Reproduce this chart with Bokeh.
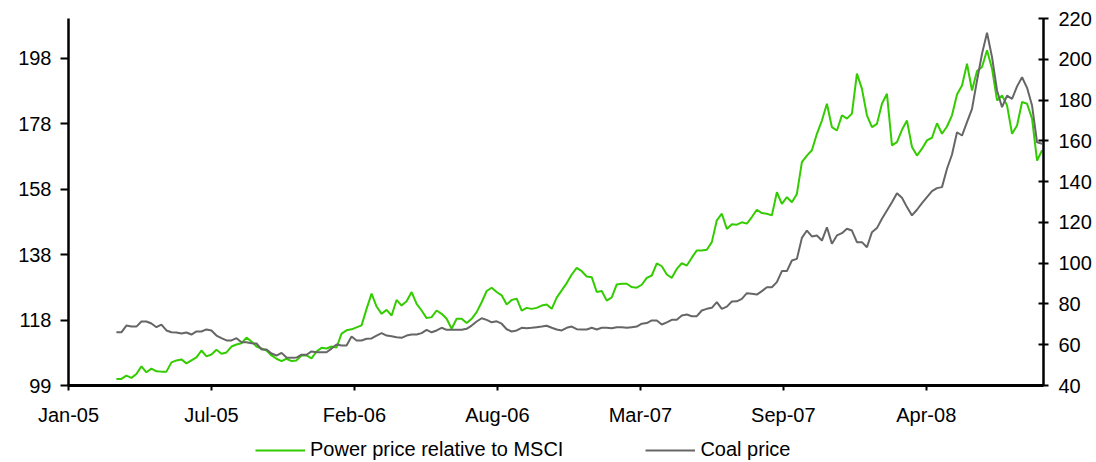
import pandas as pd
from bokeh.plotting import figure
from bokeh.layouts import column
from bokeh.models import (Range1d, LinearAxis, FixedTicker, DatetimeTickFormatter,
                          Legend, LegendItem, ColumnDataSource)
from bokeh.embed import file_html
from bokeh.resources import INLINE

first_week = "2005-03-11"

power_rel_msci = [
    101.0, 101.0, 102.0, 101.3, 102.5, 104.8, 103.0, 104.1, 103.3, 103.2,
    103.2, 106.0, 106.6, 106.9, 105.7, 106.6, 107.5, 109.6, 107.8, 108.4,
    109.8, 108.6, 109.0, 110.8, 111.4, 111.8, 113.5, 112.3, 110.8, 110.2,
    109.6, 108.1, 107.1, 106.4, 107.1, 106.4, 106.6, 108.1, 108.1, 107.2,
    109.3, 110.4, 110.2, 110.8, 110.5, 114.7, 115.7, 116.0, 116.6,
    117.2, 122.2, 126.8, 122.9, 120.7, 121.9, 120.2, 124.9, 123.2, 124.5,
    127.3, 123.7, 121.7, 119.4, 119.7, 121.7, 120.7, 119.2, 116.2, 119.2,
    119.2, 117.9, 119.2, 121.2, 124.2, 127.6, 128.6, 127.3, 126.3, 123.5,
    124.9, 125.3, 121.7, 122.5, 122.2, 122.5, 123.2, 123.5, 122.2, 125.6,
    127.8, 130.0, 132.6, 134.6, 133.6, 132.0, 131.8, 127.3,
    127.6, 124.7, 125.7, 129.6, 129.8, 129.8, 128.8, 128.6, 129.5, 131.6,
    132.3, 136.0, 135.1, 132.6, 131.6, 134.3, 136.0, 135.3, 137.7, 139.9,
    139.9, 140.1, 142.4, 149.0, 151.0, 146.4, 147.8, 147.7, 148.4, 148.0,
    150.0, 152.2, 151.2, 151.0, 150.5, 157.5, 154.0, 156.0, 154.5, 157.0,
    166.6, 168.6, 170.2, 175.2, 179.2, 184.3, 177.2, 176.2, 180.8, 179.8,
    181.3, 193.4, 188.8, 180.8, 177.2, 178.2, 184.3, 187.3, 171.7, 172.7,
    176.4, 179.2, 171.2, 168.6, 170.7, 173.2, 174.0, 178.4,
    175.2, 177.4, 180.8, 187.1, 189.8, 196.4, 188.3, 194.2, 195.4, 200.5,
    194.9, 185.3, 186.8, 183.8, 175.2, 177.7, 184.8, 184.3, 179.8, 167.1,
    170.2,
]

coal_price = [
    66.1, 66.1, 69.4, 68.9, 68.9, 71.4, 71.4, 70.4, 68.6, 69.9,
    67.0, 66.1, 66.0, 65.5, 66.0, 65.0, 66.5, 66.5, 67.5, 67.0,
    64.5, 63.2, 62.1, 62.1, 63.2, 61.2, 61.2, 60.7, 60.6, 57.7,
    57.7, 55.7, 54.7, 56.0, 53.7, 53.6, 53.7, 55.1, 55.1, 56.7,
    56.3, 56.3, 56.3, 58.1, 60.1, 59.6, 59.6, 64.0, 62.1,
    62.1, 62.9, 63.1, 64.5, 65.7, 64.5, 64.2, 63.7, 63.4, 64.5,
    65.0, 65.0, 65.7, 67.3, 66.1, 67.0, 68.3, 67.3, 67.3, 67.3,
    67.3, 67.8, 69.4, 71.4, 73.0, 72.2, 71.0, 71.5, 70.3, 67.6,
    66.5, 67.0, 68.3, 68.1, 68.3, 68.6, 68.9, 69.3, 68.3, 67.5,
    67.0, 68.3, 68.9, 67.6, 67.5, 67.5, 68.3, 67.5,
    68.3, 68.3, 68.1, 68.6, 68.6, 68.3, 68.6, 68.9, 70.3, 70.6,
    71.9, 71.9, 69.9, 71.0, 72.2, 72.2, 74.3, 74.8, 74.0, 74.0,
    76.8, 77.6, 78.1, 80.9, 77.6, 78.7, 81.2, 81.3, 82.5, 85.3,
    85.0, 84.6, 86.3, 88.2, 88.2, 90.7, 96.1, 96.1, 101.3, 102.1,
    112.4, 116.0, 113.1, 113.6, 111.1, 117.6, 109.5, 113.6, 114.7, 116.9,
    116.0, 110.3, 110.3, 107.8, 115.2, 117.2, 121.8, 125.8, 129.9, 134.3,
    132.1, 127.5, 123.4, 126.2, 129.4, 132.4, 135.3, 136.8,
    137.3, 146.3, 153.3, 164.2, 162.6, 169.2, 175.7, 189.6, 202.7, 213.0,
    201.0, 184.7, 176.5, 182.2, 180.6, 186.7, 191.2, 186.0, 177.3, 159.3,
    158.6,
]

series_names = ["Power price relative to MSCI", "Coal price"]
x_tick_dates = ["2005-01-03", "2005-07-22", "2006-02-07", "2006-08-26",
                "2007-03-14", "2007-09-30", "2008-04-17"]
x_start, x_end = "2005-01-03", "2008-09-28"
left_ticks = [99, 118.8, 138.6, 158.4, 178.2, 198]
left_tick_labels = ["99", "118", "138", "158", "178", "198"]
left_range = (99, 210.1)
right_ticks = [40, 60, 80, 100, 120, 140, 160, 180, 200, 220]
right_range = (40, 220)

# ---------------- styling ----------------
GREEN = "#33cc00"
GREY = "#666666"
FONT = "Liberation Sans"
FSIZE = "20px"

dates = pd.date_range(first_week, periods=len(power_rel_msci), freq="7D")
src = ColumnDataSource(dict(date=dates, power=power_rel_msci, coal=coal_price))

p = figure(frame_width=975, frame_height=367, x_axis_type="datetime",
           x_range=Range1d(pd.Timestamp(x_start), pd.Timestamp(x_end)),
           y_range=Range1d(*left_range),
           output_backend="svg", toolbar_location=None,
           min_border_left=68, min_border_right=53,
           min_border_top=18, min_border_bottom=45)
p.outline_line_color = None
p.grid.visible = False
p.background_fill_color = "white"
p.border_fill_color = "white"

p.extra_y_ranges = {"coal": Range1d(*right_range)}

g = p.line("date", "power", source=src, line_color=GREEN, line_width=2)
c = p.line("date", "coal", source=src, line_color=GREY, line_width=2,
           y_range_name="coal")

# x axis
xa = p.xaxis[0]
xa.ticker = FixedTicker(ticks=[pd.Timestamp(d).value // 10**6 for d in x_tick_dates])
fmt = "%b-%y"
xa.formatter = DatetimeTickFormatter(
    microseconds=fmt, milliseconds=fmt, seconds=fmt, minsec=fmt, minutes=fmt,
    hourmin=fmt, hours=fmt, days=fmt, months=fmt, years=fmt)
xa.axis_line_width = 3
xa.major_tick_out = 5
xa.major_tick_in = 0
xa.major_tick_line_width = 2
xa.minor_tick_out = 0
xa.minor_tick_in = 0
xa.major_label_standoff = 13

# left axis
ya = p.yaxis[0]
ya.ticker = FixedTicker(ticks=left_ticks)
ya.major_label_overrides = {t: l for t, l in zip(left_ticks, left_tick_labels)}
ya.axis_line_width = 2.5
ya.major_tick_out = 8
ya.major_tick_in = 0
ya.major_tick_line_width = 2
ya.minor_tick_out = 0
ya.minor_tick_in = 0
ya.major_label_standoff = 9

# right axis
ra = LinearAxis(y_range_name="coal", ticker=FixedTicker(ticks=right_ticks))
ra.axis_line_width = 2.5
ra.major_tick_out = 5
ra.major_tick_in = 5
ra.major_tick_line_width = 2
ra.minor_tick_out = 0
ra.minor_tick_in = 0
ra.major_label_standoff = 10
p.add_layout(ra, "right")

for ax in (xa, ya, ra):
    ax.axis_line_color = "black"
    ax.major_tick_line_color = "black"
    ax.major_label_text_font = FONT
    ax.major_label_text_font_size = FSIZE
    ax.major_label_text_color = "black"

# ---------------- legend strip below the chart ----------------
# (the same series are drawn here, but they fall outside this strip's ranges;
#  they only supply the legend's line samples)
leg = figure(width=1096, height=32, x_range=Range1d(0, 1), y_range=Range1d(0, 1),
             output_backend="svg", toolbar_location=None,
             min_border=0, min_border_left=0, min_border_right=0,
             min_border_top=0, min_border_bottom=0)
leg.axis.visible = False
leg.grid.visible = False
leg.outline_line_color = None
leg.background_fill_color = "white"
leg.border_fill_color = "white"
lg = leg.line("date", "power", source=src, line_color=GREEN, line_width=2)
lc = leg.line("date", "coal", source=src, line_color=GREY, line_width=2)

legend = Legend(items=[LegendItem(label=series_names[0], renderers=[lg]),
                       LegendItem(label=series_names[1], renderers=[lc])],
                location=(187, 1), orientation="horizontal",
                glyph_width=50, glyph_height=20, label_standoff=5, spacing=82,
                padding=0, margin=0, border_line_color=None,
                background_fill_alpha=0,
                label_text_font=FONT, label_text_font_size=FSIZE,
                label_text_color="black")
leg.add_layout(legend)

layout = column(p, leg, spacing=0)
open("out.html", "w").write(file_html(layout, INLINE))
